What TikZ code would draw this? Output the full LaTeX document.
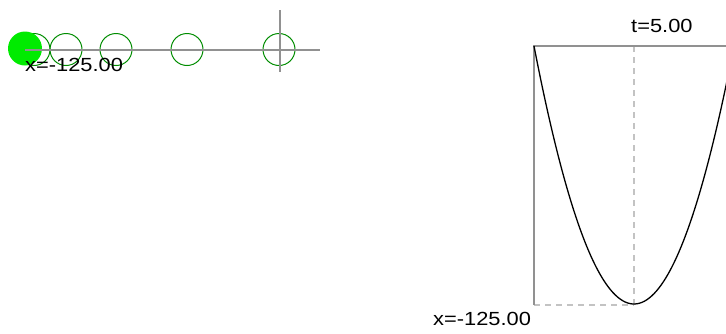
\documentclass[tikz,border=0pt]{standalone}
\usepackage{fontspec}
\setmainfont{Liberation Sans}
\definecolor{axisgray}{RGB}{145,145,145}
\definecolor{dashgray}{RGB}{195,195,195}
\definecolor{ringgreen}{RGB}{0,140,0}
\definecolor{ballgreen}{RGB}{0,235,0}
\begin{document}
\begin{tikzpicture}[x=1pt,y=-1pt,
  axis/.style={draw=axisgray,line width=1.2pt},
  guide/.style={draw=dashgray,line width=1.2pt,dash pattern=on 6pt off 5pt},
  ring/.style={draw=ringgreen,line width=1pt},
  ball/.style={fill=ballgreen,draw=none},
  curve/.style={draw=black,line width=1.3pt},
  lbl/.style={inner sep=0pt,anchor=base west,font=\fontsize{19}{22}\selectfont,text=black}]
\useasboundingbox (0,0) rectangle (726,333);
% left panel
\draw[ring] (34,49.5) circle (16);
\draw[ring] (66,49.5) circle (16);
\draw[ring] (116,49.5) circle (16);
\draw[ring] (187,49.5) circle (16);
\draw[ring] (279,49.5) circle (16);
\fill[ball] (25,48.5) circle (17);
\coordinate (hl) at (25,50);
\coordinate (hr) at (320,50);
\coordinate (vt) at (280,10);
\coordinate (vb) at (280,72);
\draw[axis] (hl) -- (hr);
\draw[axis] (vt) -- (vb);
\node[lbl] (xleft) at (25,71) {\scalebox{1.15}[1]{x=-125.00}};
% right panel
\coordinate (o) at (534,46);
\coordinate (tr) at (726,46);
\coordinate (bl) at (534,305);
\coordinate (mid) at (634,46);
\coordinate (bm) at (634,305);
\draw[guide] (bl) -- (bm);
\draw[guide] (mid) -- (bm);
\draw[axis] (tr) -- (o) -- (bl);
\begin{scope}
\clip (0,0) rectangle (726,333);
\draw[curve] plot[domain=534:728,samples=80,smooth] (\x,{46+258*(1-((\x-634)/100)^2)});
\end{scope}
\node[lbl] (tlabel) at (631,32) {\scalebox{1.15}[1]{t=5.00}};
\node[lbl] (xbottom) at (433,325) {\scalebox{1.15}[1]{x=-125.00}};
\end{tikzpicture}
\end{document}
